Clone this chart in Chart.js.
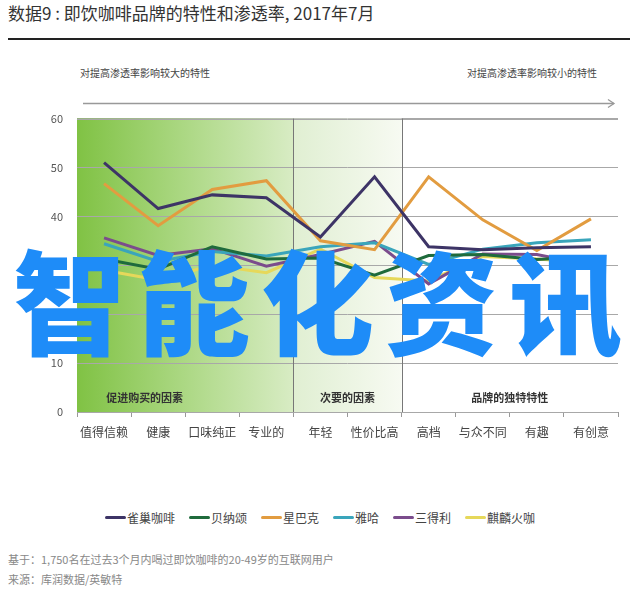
<!DOCTYPE html>
<html>
<head>
<meta charset="utf-8">
<script src="https://cdn.jsdelivr.net/npm/chart.js@4"></script>
<style>
  body { margin: 0; width: 640px; height: 596px; background: #fff; position: relative; overflow: hidden;
         font-family: "Noto Sans CJK SC", "Noto Sans", sans-serif; }
  .abs { position: absolute; white-space: nowrap; }
  #title { left: 8px; top: 0px; font-size: 17px; color: #333; }
  #rule { left: 8px; top: 38px; width: 622px; height: 2px; background: #222; }
  .note { top: 65px; font-size: 10px; color: #444; }
  #chartBox { left: 0; top: 98px; width: 640px; height: 352px; }
  #legend { left: 0; top: 509px; width: 640px; display: flex; justify-content: center; font-size: 12px; color: #444; }
  #legend span.item { display: flex; align-items: center; margin: 0 7px; }
  #legend span.sw { display: inline-block; width: 21px; height: 3px; border-radius: 2px; margin-right: 1px; }
  .foot { left: 8px; font-size: 11px; color: #888; }
  #mark { left: 13px; top: 241px; font-size: 113px; font-weight: 900; color: #1e8cf8; line-height: 1; letter-spacing: 11px; }
</style>
</head>
<body>
<div id="title" class="abs">数据9 : 即饮咖啡品牌的特性和渗透率, 2017年7月</div>
<div id="rule" class="abs"></div>
<div class="abs note" style="left:80px">对提高渗透率影响较大的特性</div>
<div class="abs note" style="left:467px">对提高渗透率影响较小的特性</div>
<div id="chartBox" class="abs"><canvas id="chart"></canvas></div>
<svg class="abs" style="left:0;top:96px" width="640" height="14">
  <line x1="83" y1="7.5" x2="614" y2="7.5" stroke="#999" stroke-width="1.3"/>
  <polyline points="608,3.5 614,7.5 608,11.5" fill="none" stroke="#999" stroke-width="1.3"/>
</svg>
<div id="legend" class="abs"></div>
<div class="abs foot" style="top:551px">基于：1,750名在过去3个月内喝过即饮咖啡的20-49岁的互联网用户</div>
<div class="abs foot" style="top:571px">来源：库润数据/英敏特</div>
<div id="mark" class="abs">智能化资讯</div>

<script>
const categories = ["值得信赖", "健康", "口味纯正", "专业的", "年轻", "性价比高", "高档", "与众不同", "有趣", "有创意"];
const brands = ["雀巢咖啡", "贝纳颂", "星巴克", "雅哈", "三得利", "麒麟火咖"];
const brandColors = ["#3d3466", "#1f6b3c", "#e29c40", "#3aa5bb", "#7b4c8c", "#e6d85a"];

const nestle   = [51.0, 41.6, 44.4, 43.8, 35.8, 48.1, 33.8, 33.2, 33.6, 33.8];
const benason  = [31.3, 29.2, 33.8, 31.3, 31.5, 28.0, 32.0, 32.2, 31.2, 31.8];
const starbuck = [46.7, 38.1, 45.5, 47.3, 35.0, 33.2, 48.1, 39.3, 33.0, 39.5];
const yaha     = [34.4, 30.8, 32.8, 31.9, 33.8, 34.6, 30.2, 33.3, 34.6, 35.2];
const suntory  = [35.6, 32.0, 33.4, 29.8, 32.2, 34.9, 26.2, 32.3, 32.2, 30.0];
const kirin    = [29.0, 27.0, 30.0, 28.5, 33.3, 27.5, 26.8, 31.8, 31.3, 30.5];
const seriesValues = [nestle, benason, starbuck, yaha, suntory, kirin];

const yTicks = [0, 10, 20, 30, 40, 50, 60];
const sections = ["促进购买的因素", "次要的因素", "品牌的独特特性"];
const sectionBreaks = [3.5, 5.5];
const sectionLabelAt = [0.75, 4.5, 7.5];

// legend
const legendDiv = document.getElementById("legend");
brands.forEach((b, i) => {
  const it = document.createElement("span");
  it.className = "item";
  it.innerHTML = `<span class="sw" style="background:${brandColors[i]}"></span>${b}`;
  legendDiv.appendChild(it);
});

// background bands, dividers and section labels
const bandPlugin = {
  id: "bands",
  beforeDatasetsDraw(chart) {
    const { ctx, chartArea: a, scales: { x, y } } = chart;
    const b1 = x.getPixelForValue(sectionBreaks[0]);
    const b2 = x.getPixelForValue(sectionBreaks[1]);
    ctx.save();
    let g = ctx.createLinearGradient(a.left, 0, b1, 0);
    g.addColorStop(0, "#80c244");
    g.addColorStop(0.5, "#acd884");
    g.addColorStop(1, "#d8ecc4");
    ctx.fillStyle = g;
    ctx.fillRect(a.left, a.top, b1 - a.left, a.bottom - a.top);
    g = ctx.createLinearGradient(b1, 0, b2, 0);
    g.addColorStop(0, "#e0efd2");
    g.addColorStop(1, "#f7faf2");
    ctx.fillStyle = g;
    ctx.fillRect(b1, a.top, b2 - b1, a.bottom - a.top);

    // redraw horizontal gridlines over the fill
    ctx.strokeStyle = "#a8a8a8";
    ctx.lineWidth = 1;
    yTicks.forEach(t => {
      const py = Math.round(y.getPixelForValue(t)) + 0.5;
      ctx.beginPath();
      ctx.moveTo(a.left, py);
      ctx.lineTo(a.right, py);
      ctx.stroke();
    });

    ctx.strokeStyle = "#777";
    [b1, b2].forEach(px => {
      ctx.beginPath();
      ctx.moveTo(Math.round(px) + 0.5, a.top);
      ctx.lineTo(Math.round(px) + 0.5, a.bottom);
      ctx.stroke();
    });

    ctx.fillStyle = "#333";
    ctx.font = "bold 11px 'Noto Sans CJK SC'";
    ctx.textAlign = "center";
    ctx.textBaseline = "middle";
    sections.forEach((s, i) => {
      ctx.fillText(s, x.getPixelForValue(sectionLabelAt[i]), y.getPixelForValue(3));
    });
    ctx.restore();
  }
};

new Chart(document.getElementById("chart"), {
  type: "line",
  data: {
    labels: categories,
    datasets: brands.map((b, i) => ({
      label: b,
      data: seriesValues[i],
      borderColor: brandColors[i],
      backgroundColor: brandColors[i],
      borderWidth: 3,
      pointRadius: 0,
      tension: 0
    }))
  },
  options: {
    responsive: true,
    maintainAspectRatio: false,
    animation: false,
    layout: { padding: { top: 1, right: 22, left: 0, bottom: 0 } },
    plugins: { legend: { display: false }, tooltip: { enabled: false } },
    scales: {
      x: {
        offset: true,
        grid: { offset: true, drawOnChartArea: false, drawTicks: true, tickLength: 5, color: "#999" },
        border: { color: "#999" },
        ticks: { color: "#444", font: { size: 12, family: "Noto Sans CJK SC" }, padding: 8, maxRotation: 0, autoSkip: false },
        afterFit(s) { s.height = 38; }
      },
      y: {
        min: 0,
        max: 60,
        afterBuildTicks(s) { s.ticks = yTicks.map(v => ({ value: v })); },
        grid: { color: "#a8a8a8", drawTicks: false },
        border: { display: false },
        ticks: { color: "#555", font: { size: 11, family: "Noto Sans CJK SC" }, padding: 14 },
        afterFit(s) { s.width = 77; }
      }
    }
  },
  plugins: [bandPlugin]
});
</script>
</body>
</html>
